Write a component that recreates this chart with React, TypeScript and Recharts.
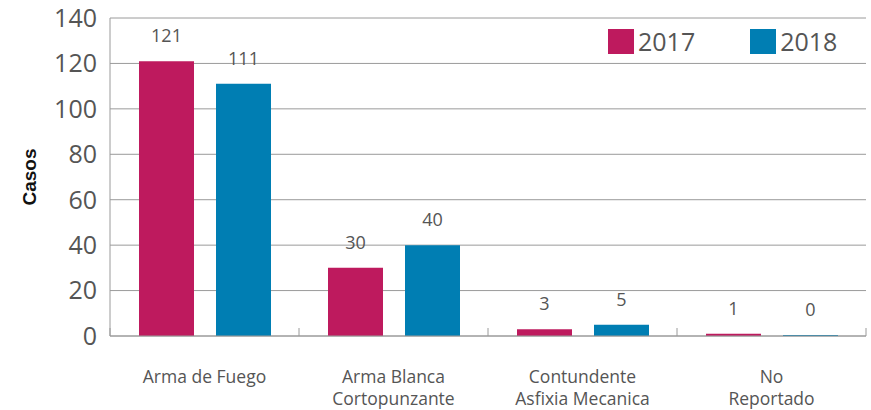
import React from 'react';
import { BarChart, Bar, XAxis, YAxis, CartesianGrid, Legend, LabelList, Label } from 'recharts';

const categories = ['Arma de Fuego', 'Arma Blanca\nCortopunzante', 'Contundente\nAsfixia Mecanica', 'No\nReportado'];
const casos2017 = [121, 30, 3, 1];
const casos2018 = [111, 40, 5, 0];
const yTicks = [0, 20, 40, 60, 80, 100, 120, 140];

const COLOR_2017 = '#BE1A5E';
const COLOR_2018 = '#007EB3';
const TEXT = '#555555';
const LINE = '#9a9a9a';
const FONT = '"Open Sans", sans-serif';

const data = categories.map((name, i) => ({
  name,
  y2017: casos2017[i],
  y2018: casos2018[i],
}));

const HALF_BAND = 94.5;

const CategoryTick = (props: any) => {
  const { x, y, payload, index } = props;
  const lines = String(payload.value).split('\n');
  return (
    <g>
      <line x1={x - HALF_BAND} x2={x - HALF_BAND} y1={y - 8} y2={y} stroke={LINE} />
      {index === categories.length - 1 && (
        <line x1={x + HALF_BAND} x2={x + HALF_BAND} y1={y - 8} y2={y} stroke={LINE} />
      )}
      {lines.map((l, i) => (
        <text key={i} x={x} y={y + 47 + i * 22} textAnchor="middle" fill={TEXT} fontSize={17.5} fontFamily={FONT}>
          {l}
        </text>
      ))}
    </g>
  );
};

const LegendBox = () => (
  <div style={{ display: 'flex', alignItems: 'center', fontFamily: FONT, color: TEXT, fontSize: 25 }}>
    {[{ label: '2017', color: COLOR_2017 }, { label: '2018', color: COLOR_2018 }].map((it, i) => (
      <div key={it.label} style={{ display: 'flex', alignItems: 'center', marginLeft: i === 0 ? 0 : 55 }}>
        <div style={{ width: 26, height: 25, background: it.color, marginRight: 4 }} />
        <span style={{ lineHeight: '25px' }}>{it.label}</span>
      </div>
    ))}
  </div>
);

export default function App() {
  return (
    <div style={{ position: 'absolute', left: 0, top: 0, width: 871, height: 410, background: '#fff' }}>
      <BarChart
        width={871}
        height={410}
        data={data}
        margin={{ top: 18, right: 5, left: 0, bottom: 0 }}
        barCategoryGap={29}
        barGap={22}
      >
        <CartesianGrid horizontal vertical={false} stroke={LINE} strokeWidth={1} />
        <XAxis
          dataKey="name"
          height={74}
          tickLine={false}
          tickSize={0}
          tickMargin={0}
          axisLine={{ stroke: LINE }}
          tick={<CategoryTick />}
          interval={0}
        />
        <YAxis
          width={110}
          domain={[0, 140]}
          ticks={yTicks}
          tickLine={false}
          tickSize={0}
          tickMargin={13}
          axisLine={{ stroke: LINE }}
          tick={{ fill: TEXT, fontSize: 25, fontFamily: FONT }}
        >
          <Label
            value="Casos"
            angle={-90}
            position="insideLeft"
            offset={29}
            style={{ fontFamily: 'Liberation Sans, Arial, sans-serif', fontWeight: 'bold', fontSize: 19, fill: '#111', textAnchor: 'middle' }}
          />
        </YAxis>
        <Legend
          layout="horizontal"
          verticalAlign="middle"
          align="center"
          wrapperStyle={{ top: 29, left: 608, width: 'auto' }}
          content={<LegendBox />}
        />
        <Bar dataKey="y2017" name="2017" fill={COLOR_2017} isAnimationActive={false}>
          <LabelList dataKey="y2017" position="top" offset={19} fill={TEXT} fontSize={18} fontFamily={FONT} />
        </Bar>
        <Bar dataKey="y2018" name="2018" fill={COLOR_2018} minPointSize={1} isAnimationActive={false}>
          <LabelList dataKey="y2018" position="top" offset={19} fill={TEXT} fontSize={18} fontFamily={FONT} />
        </Bar>
      </BarChart>
    </div>
  );
}
